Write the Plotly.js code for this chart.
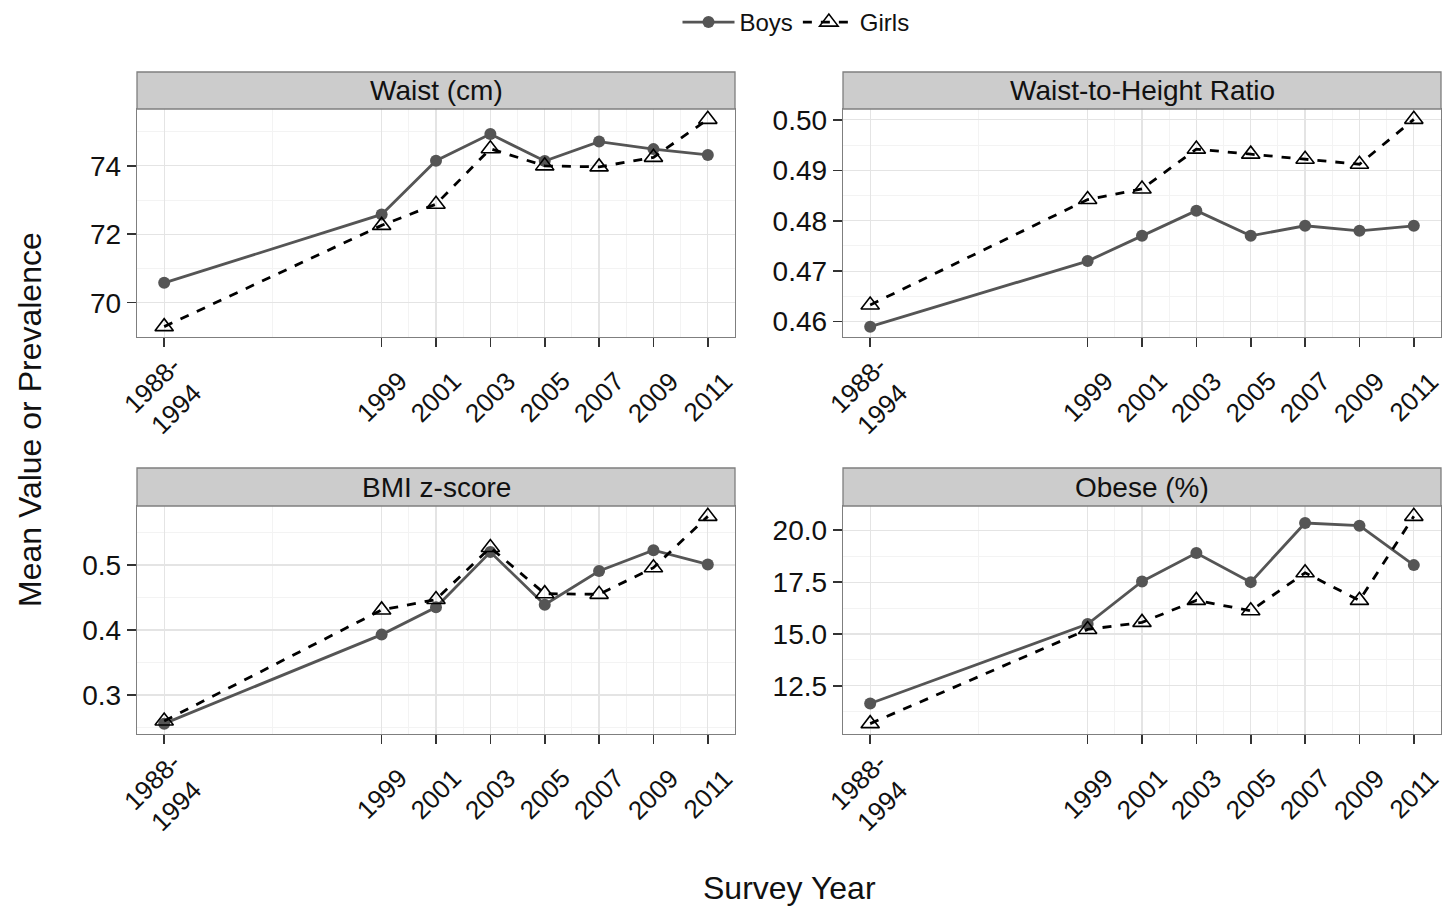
<!DOCTYPE html>
<html>
<head>
<meta charset="utf-8">
<script src="https://cdn.plot.ly/plotly-3.0.1.min.js"></script>
<style>
html,body{margin:0;padding:0;background:#fff;}
#chart{width:1453px;height:907px;}
</style>
</head>
<body>
<div id="chart"></div>
<script>
// ---- data ----
var years = [1991, 1999, 2001, 2003, 2005, 2007, 2009, 2011];
var yearLabels = ["1988-<br>1994", "1999", "2001", "2003", "2005", "2007", "2009", "2011"];
var panelTitles = ["Waist (cm)", "Waist-to-Height Ratio", "BMI z-score", "Obese (%)"];

var waistBoys  = [70.58, 72.58, 74.15, 74.93, 74.14, 74.71, 74.49, 74.32];
var waistGirls = [69.30, 72.26, 72.88, 74.50, 74.00, 73.97, 74.25, 75.36];

var whtrBoys   = [0.459, 0.472, 0.477, 0.482, 0.477, 0.479, 0.478, 0.479];
var whtrGirls  = [0.4633, 0.4842, 0.4863, 0.4942, 0.4932, 0.4922, 0.4912, 0.5001];

var bmiBoys    = [0.256, 0.393, 0.435, 0.520, 0.439, 0.491, 0.523, 0.501];
var bmiGirls   = [0.260, 0.431, 0.447, 0.527, 0.456, 0.455, 0.496, 0.575];

var obeseBoys  = [11.65, 15.48, 17.53, 18.90, 17.50, 20.35, 20.22, 18.32];
var obeseGirls = [10.68, 15.22, 15.56, 16.62, 16.12, 17.95, 16.62, 20.67];

var yTickVals = [[70, 72, 74], [0.46, 0.47, 0.48, 0.49, 0.50], [0.3, 0.4, 0.5], [12.5, 15.0, 17.5, 20.0]];
var yTickText = [["70", "72", "74"], ["0.46", "0.47", "0.48", "0.49", "0.50"], ["0.3", "0.4", "0.5"], ["12.5", "15.0", "17.5", "20.0"]];

// ---- styling/layout helpers ----
var W = 1453, H = 907;
function px(x){ return x / W; }
function py(y){ return 1 - y / H; }

var boysData = [waistBoys, whtrBoys, bmiBoys, obeseBoys];
var girlsData = [waistGirls, whtrGirls, bmiGirls, obeseGirls];

var xDomains = [[px(137), px(735)], [px(843), px(1441)], [px(137), px(735)], [px(843), px(1441)]];
var yDomains = [[py(337), py(109)], [py(337), py(109)], [py(734), py(506)], [py(734), py(506)]];
var stripY = [[py(109), py(72)], [py(109), py(72)], [py(506), py(468)], [py(506), py(468)]];
var xLabelY = [py(397), py(397), py(794), py(794)];

function minorBetween(vals){
  var out = [];
  var step = vals[1] - vals[0];
  out.push(vals[0] - step/2);
  for (var i = 0; i < vals.length - 1; i++) out.push((vals[i] + vals[i+1]) / 2);
  out.push(vals[vals.length-1] + step/2);
  return out;
}
function range(arrs, pad){
  var all = [].concat.apply([], arrs);
  var lo = Math.min.apply(null, all), hi = Math.max.apply(null, all);
  var d = (hi - lo) * pad;
  return [lo - d, hi + d];
}

var FONT = "Liberation Sans, Arial, Helvetica, sans-serif";
var traces = [];
var layout = {
  width: W, height: H,
  margin: {l: 0, r: 0, t: 0, b: 0},
  paper_bgcolor: "#ffffff",
  plot_bgcolor: "#ffffff",
  font: {family: FONT, color: "#111"},
  showlegend: true,
  legend: {
    orientation: "h", x: px(796), xanchor: "center", y: 1.0, yanchor: "top",
    font: {size: 24, color: "#111"}, itemwidth: 52, bgcolor: "rgba(0,0,0,0)",
    tracegroupgap: 0
  },
  shapes: [],
  annotations: []
};

var xMinor = minorBetween(years.slice(1));
xMinor = [1995].concat(xMinor.slice(1, xMinor.length - 1));

for (var p = 0; p < 4; p++) {
  var sfx = p === 0 ? "" : String(p + 1);
  traces.push({
    x: years, y: boysData[p], type: "scatter", mode: "lines+markers",
    name: "Boys", legendgroup: "boys", showlegend: p === 0,
    xaxis: "x" + sfx, yaxis: "y" + sfx,
    line: {color: "#555555", width: 2.8},
    marker: {symbol: "circle", size: 12, color: "#555555"}
  });
  traces.push({
    x: years, y: girlsData[p], type: "scatter", mode: "lines+markers",
    name: "Girls", legendgroup: "girls", showlegend: p === 0,
    xaxis: "x" + sfx, yaxis: "y" + sfx,
    line: {color: "#000000", width: 2.8, dash: "dash"},
    marker: {symbol: "triangle-up-open", size: 16, color: "#000000", line: {width: 1.6, color: "#000000"}}
  });

  var yr = range([boysData[p], girlsData[p]], 0.05);
  layout["xaxis" + sfx] = {
    domain: xDomains[p], anchor: "y" + sfx, range: [1990, 2012],
    tickmode: "array", tickvals: years, showticklabels: false,
    ticks: "outside", ticklen: 9, tickwidth: 1.6, tickcolor: "#333",
    showline: true, mirror: true, linecolor: "#7f7f7f", linewidth: 1.3,
    showgrid: true, gridcolor: "#e4e4e4", gridwidth: 1.2, zeroline: false,
    minor: {tickmode: "array", tickvals: xMinor, showgrid: true, gridcolor: "#f3f3f3", gridwidth: 1, ticks: ""},
    fixedrange: true
  };
  layout["yaxis" + sfx] = {
    domain: yDomains[p], anchor: "x" + sfx, range: yr,
    tickmode: "array", tickvals: yTickVals[p], ticktext: yTickText[p],
    tickfont: {size: 28, color: "#111"},
    ticks: "outside", ticklen: 9, tickwidth: 1.6, tickcolor: "#333",
    showline: true, mirror: true, linecolor: "#7f7f7f", linewidth: 1.3,
    showgrid: true, gridcolor: "#e4e4e4", gridwidth: 1.2, zeroline: false,
    minor: {tickmode: "array", tickvals: minorBetween(yTickVals[p]), showgrid: true, gridcolor: "#f3f3f3", gridwidth: 1, ticks: ""},
    fixedrange: true
  };

  // rotated, centred x tick labels (ggplot style)
  for (var i = 0; i < years.length; i++) {
    layout.annotations.push({
      xref: "x" + sfx, yref: "paper", showarrow: false,
      x: years[i], y: xLabelY[p], xanchor: "center", yanchor: "middle",
      textangle: -45, align: "center",
      text: yearLabels[i], font: {size: 26, color: "#111"}
    });
  }

  layout.shapes.push({
    type: "rect", xref: "paper", yref: "paper",
    x0: xDomains[p][0], x1: xDomains[p][1], y0: stripY[p][0], y1: stripY[p][1],
    fillcolor: "#cccccc", line: {color: "#7f7f7f", width: 1.3}, layer: "above"
  });
  layout.annotations.push({
    xref: "paper", yref: "paper", showarrow: false,
    x: (xDomains[p][0] + xDomains[p][1]) / 2, y: (stripY[p][0] + stripY[p][1]) / 2,
    xanchor: "center", yanchor: "middle",
    text: panelTitles[p], font: {size: 28, color: "#111"}
  });
}

layout.annotations.push({
  xref: "paper", yref: "paper", showarrow: false,
  x: px(789), y: py(888), xanchor: "center", yanchor: "middle",
  text: "Survey Year", font: {size: 32, color: "#111"}
});
layout.annotations.push({
  xref: "paper", yref: "paper", showarrow: false,
  x: px(30), y: py(420), xanchor: "center", yanchor: "middle", textangle: -90,
  text: "Mean Value or Prevalence", font: {size: 32, color: "#111"}
});

Plotly.newPlot("chart", traces, layout, {displayModeBar: false, staticPlot: true});
</script>
</body>
</html>
